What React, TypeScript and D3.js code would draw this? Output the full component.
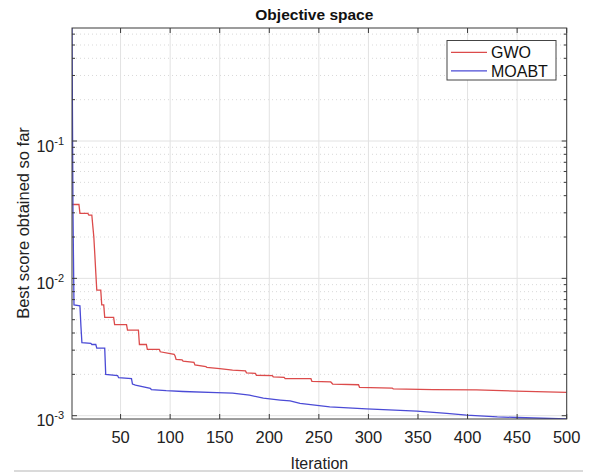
import React from "react";
import * as d3 from "d3";

const gwoIter = [1, 8, 9, 17, 18, 21, 22, 23, 24, 25, 26, 30, 31, 33, 34, 43, 44, 56, 57, 68, 69, 76, 77, 89, 90, 104, 105, 106, 112, 113, 124, 125, 136, 137, 150, 163, 176, 177, 186, 187, 203, 204, 215, 216, 242, 243, 262, 264, 290, 291, 324, 325, 365, 409, 449, 500];
const gwoVal = [0.0345, 0.0345, 0.0297, 0.0297, 0.0289, 0.0289, 0.024, 0.0201, 0.015, 0.011, 0.0082, 0.0082, 0.0064, 0.0064, 0.0052, 0.0052, 0.0046, 0.0046, 0.0042, 0.0042, 0.0033, 0.0033, 0.00304, 0.00304, 0.00292, 0.0028, 0.00272, 0.00257, 0.00255, 0.0025, 0.00245, 0.00234, 0.00228, 0.00225, 0.0022, 0.00215, 0.00212, 0.00205, 0.00203, 0.00197, 0.00196, 0.00192, 0.0019, 0.00186, 0.00186, 0.00178, 0.00176, 0.0017, 0.00168, 0.00161, 0.00159, 0.00157, 0.00155, 0.00154, 0.00151, 0.00148];

const moabtIter = [1, 2, 3, 9, 10, 11, 20, 21, 25, 26, 34, 35, 47, 48, 61, 62, 65, 80, 81, 96, 113, 147, 163, 180, 194, 211, 221, 231, 261, 298, 349, 379, 399, 430, 450, 500];
const moabtVal = [0.665, 0.03, 0.0064, 0.0063, 0.0045, 0.0034, 0.00336, 0.0033, 0.0033, 0.0031, 0.0031, 0.002, 0.00196, 0.00189, 0.00186, 0.0017, 0.00167, 0.00158, 0.00155, 0.00152, 0.0015, 0.00147, 0.00146, 0.00141, 0.00134, 0.0013, 0.00128, 0.00123, 0.00116, 0.00112, 0.00108, 0.00104, 0.00101, 0.00098, 0.00097, 0.000946];

const xTicks = [50, 100, 150, 200, 250, 300, 350, 400, 450, 500];
const yMajor = [0.001, 0.01, 0.1];
const yExp = ["-3", "-2", "-1"];
const seriesNames = ["GWO", "MOABT"];
const seriesColors = ["#dc4b4b", "#4b4bd6"];

const W = 592, H = 474;
const L = 72, R = 566.7, T = 28, B = 419;
const FONT = "'Liberation Sans', Arial, Helvetica, sans-serif";

export default function App() {
  const allVals = [...gwoVal, ...moabtVal];
  const [ymin, ymax] = d3.extent(allVals) as [number, number];
  const x = d3.scaleLinear().domain([1, 500]).range([L, R]);
  const y = d3.scaleLog().domain([ymin, ymax]).range([B, T]);

  const minor: number[] = [];
  for (let e = -4; e <= 0; e++) {
    for (let m = 2; m <= 9; m++) {
      const v = m * Math.pow(10, e);
      if (v > ymin && v < ymax) minor.push(v);
    }
  }

  const line = d3.line<[number, number]>().x(d => x(d[0])).y(d => y(d[1]));
  const gwo = line(gwoIter.map((it, i) => [it, gwoVal[i]] as [number, number])) || "";
  const moabt = line(moabtIter.map((it, i) => [it, moabtVal[i]] as [number, number])) || "";

  const axisColor = "#3a3a3a";
  const lgX = 447, lgY = 40.5, lgW = 109, lgH = 39.5;

  return (
    <svg width={W} height={H} style={{ position: "absolute", left: 0, top: 0, background: "#fff" }} fontFamily={FONT}>
      <rect x={0} y={0} width={W} height={H} fill="#fff" />
      <defs>
        <clipPath id="plotclip"><rect x={L} y={T} width={R - L} height={B - T} /></clipPath>
      </defs>
      {minor.map((v, i) => (
        <line key={"mg" + i} x1={L} x2={R} y1={y(v)} y2={y(v)} stroke="#cfcfcf" strokeWidth={0.8} strokeDasharray="1,3" />
      ))}
      {xTicks.map((t, i) => (
        <line key={"gx" + i} x1={x(t)} x2={x(t)} y1={T} y2={B} stroke="#e2e2e2" strokeWidth={1} />
      ))}
      {yMajor.map((t, i) => (
        <line key={"gy" + i} x1={L} x2={R} y1={y(t)} y2={y(t)} stroke="#e2e2e2" strokeWidth={1} />
      ))}
      <g clipPath="url(#plotclip)">
        <path d={gwo} fill="none" stroke={seriesColors[0]} strokeWidth={1.3} />
        <path d={moabt} fill="none" stroke={seriesColors[1]} strokeWidth={1.3} />
      </g>
      <rect x={L} y={T} width={R - L} height={B - T} fill="none" stroke={axisColor} strokeWidth={1} />
      {xTicks.map((t, i) => (
        <g key={"xt" + i}>
          <line x1={x(t)} x2={x(t)} y1={B} y2={B - 5} stroke={axisColor} />
          <line x1={x(t)} x2={x(t)} y1={T} y2={T + 5} stroke={axisColor} />
          <text x={x(t)} y={442.5} fontSize={16.5} textAnchor="middle" fill="#222">{t}</text>
        </g>
      ))}
      {yMajor.map((t, i) => (
        <g key={"yt" + i}>
          <line x1={L} x2={L + 5} y1={y(t)} y2={y(t)} stroke={axisColor} />
          <line x1={R} x2={R - 5} y1={y(t)} y2={y(t)} stroke={axisColor} />
          <text x={64} y={y(t) + 10.5} fontSize={16} textAnchor="end" fill="#222">
            10<tspan fontSize={11} dy={-7}>{yExp[i]}</tspan>
          </text>
        </g>
      ))}
      {minor.map((v, i) => (
        <g key={"ym" + i}>
          <line x1={L} x2={L + 3} y1={y(v)} y2={y(v)} stroke={axisColor} />
          <line x1={R} x2={R - 3} y1={y(v)} y2={y(v)} stroke={axisColor} />
        </g>
      ))}
      <text x={(L + R) / 2 - 5} y={20} fontSize={15.5} fontWeight="bold" textAnchor="middle" fill="#111">Objective space</text>
      <text x={(L + R) / 2} y={469} fontSize={16} textAnchor="middle" fill="#222">Iteration</text>
      <text transform={`translate(29,${(126.7 + 319.3) / 2}) rotate(-90)`} fontSize={16.5} textAnchor="middle" fill="#222">Best score obtained so far</text>
      <rect x={lgX} y={lgY} width={lgW} height={lgH} fill="#fff" stroke="#444" strokeWidth={1} />
      {seriesNames.map((n, i) => (
        <g key={"lg" + i}>
          <line x1={451} x2={487} y1={52.3 + i * 18.5} y2={52.3 + i * 18.5} stroke={seriesColors[i]} strokeWidth={1.3} />
          <text x={491} y={58 + i * 18.5} fontSize={16} fill="#111">{n}</text>
        </g>
      ))}
      <line x1={14} x2={583} y1={471} y2={471} stroke="#b5b5b5" strokeWidth={1} />
    </svg>
  );
}
